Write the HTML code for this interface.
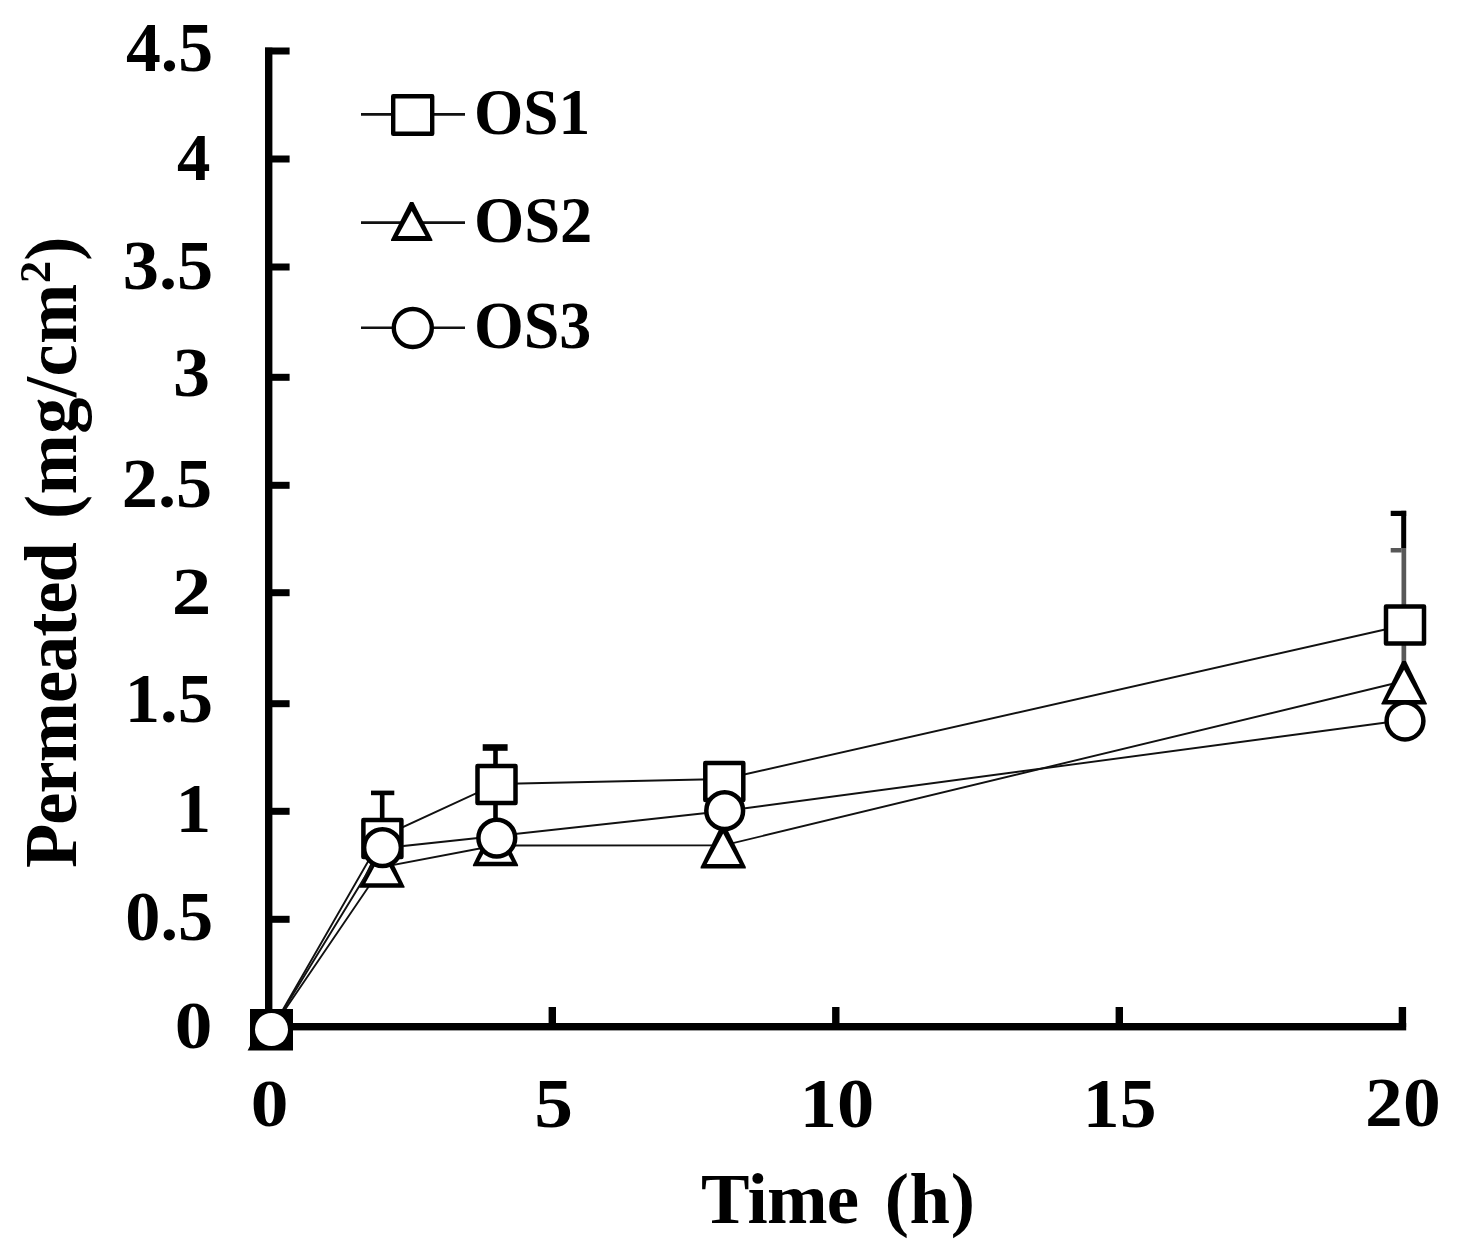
<!DOCTYPE html>
<html lang="en"><head><meta charset="utf-8"><title>Permeated (mg/cm2) vs Time (h)</title>
<style>
html,body{margin:0;padding:0;background:#fff;}
body{width:1459px;height:1255px;overflow:hidden;}
svg{display:block;}
text{font-family:"Liberation Serif",serif;font-weight:bold;fill:#000;}
.tk{font-size:68px;}
.lg{font-size:64px;}
.tt{font-size:71px;}
</style></head><body>
<svg width="1459" height="1255" viewBox="0 0 1459 1255">
<rect width="1459" height="1255" fill="#fff"/>
<g fill="#000">
<rect x="265" y="47.6" width="7.4" height="982.8"/>
<rect x="265" y="1023" width="1141.2" height="7.4"/>
<rect x="265" y="915.8" width="24.6" height="7"/>
<rect x="265" y="807.8" width="24.6" height="7"/>
<rect x="265" y="700.2" width="24.6" height="7"/>
<rect x="265" y="589.2" width="24.6" height="7"/>
<rect x="265" y="481.8" width="24.6" height="7"/>
<rect x="265" y="373.8" width="24.6" height="7"/>
<rect x="265" y="263.5" width="24.6" height="7"/>
<rect x="265" y="155.5" width="24.6" height="7"/>
<rect x="265" y="47.5" width="24.6" height="7"/>
<rect x="548.6" y="1007" width="7.4" height="20"/>
<rect x="832.1" y="1007" width="7.4" height="20"/>
<rect x="1115.6" y="1007" width="7.4" height="20"/>
<rect x="1398.7" y="1007" width="7.4" height="20"/>
</g>
<g>
<g transform="matrix(1.10823 0 0 0.99178 -20.403 8.604)"><text id="t_y0" class="tk" text-anchor="end" x="210.0" y="1048.5">0</text></g>
<g transform="matrix(1.03333 0 0 1.02801 -3.880 -26.729)"><text id="t_y0.5" class="tk" text-anchor="end" x="210.0" y="940.3">0.5</text></g>
<g transform="matrix(1.04000 0 0 1.02801 -7.240 -23.704)"><text id="t_y1" class="tk" text-anchor="end" x="210.0" y="832.3">1</text></g>
<g transform="matrix(1.03896 0 0 1.02801 -5.065 -22.698)"><text id="t_y1.5" class="tk" text-anchor="end" x="210.0" y="724.7">1.5</text></g>
<g transform="matrix(1.16468 0 0 0.99178 -33.090 5.046)"><text id="t_y2" class="tk" text-anchor="end" x="210.0" y="613.7">2</text></g>
<g transform="matrix(1.06359 0 0 1.02321 -11.139 -10.745)"><text id="t_y2.5" class="tk" text-anchor="end" x="210.0" y="506.3">2.5</text></g>
<g transform="matrix(1.09045 0 0 1.03706 -18.813 -17.163)"><text id="t_y3" class="tk" text-anchor="end" x="210.0" y="398.3">3</text></g>
<g transform="matrix(1.06344 0 0 1.02321 -10.120 -5.685)"><text id="t_y3.5" class="tk" text-anchor="end" x="210.0" y="288.0">3.5</text></g>
<g transform="matrix(0.98160 0 0 0.99178 4.256 1.479)"><text id="t_y4" class="tk" text-anchor="end" x="210.0" y="180.0">4</text></g>
<g transform="matrix(1.02469 0 0 1.03706 -2.111 -4.064)"><text id="t_y4.5" class="tk" text-anchor="end" x="210.0" y="72.0">4.5</text></g>
<g transform="matrix(1.10823 0 0 0.99178 -29.736 9.245)"><text id="t_x0" class="tk" text-anchor="middle" x="270.0" y="1126.5">0</text></g>
<g transform="matrix(1.14016 0 0 1.03706 -77.170 -40.758)"><text id="t_x5" class="tk" text-anchor="middle" x="553.3" y="1126.5">5</text></g>
<g transform="matrix(1.09343 0 0 1.03706 -78.093 -40.758)"><text id="t_x10" class="tk" text-anchor="middle" x="836.8" y="1126.5">10</text></g>
<g transform="matrix(1.08333 0 0 1.03706 -94.000 -40.758)"><text id="t_x15" class="tk" text-anchor="middle" x="1120.3" y="1126.5">15</text></g>
<g transform="matrix(1.11111 0 0 1.02801 -156.444 -31.957)"><text id="t_x20" class="tk" text-anchor="middle" x="1403.4" y="1126.5">20</text></g>
<g transform="matrix(0.99099 0 0 1.03829 3.306 -4.523)"><text id="t_OS1" class="lg" text-anchor="start" x="475.0" y="133.8">OS1</text></g>
<g transform="matrix(1.00901 0 0 1.03353 -5.306 -8.114)"><text id="t_OS2" class="lg" text-anchor="start" x="475.0" y="241.8">OS2</text></g>
<g transform="matrix(1.00000 0 0 1.04762 -1.000 -15.524)"><text id="t_OS3" class="lg" text-anchor="start" x="475.0" y="347.3">OS3</text></g>
<g transform="matrix(1.02434 0 0 1.00446 -19.135 -4.859)"><text id="t_time" class="tt" text-anchor="middle" x="837.0" y="1222.3" style="word-spacing:8px"><tspan letter-spacing="-0.7">Time</tspan> <tspan letter-spacing="0.6">(h)</tspan></text></g>
<g transform="matrix(1.03082 0 0 1.02052 -1.963 -12.069)"><text id="t_perm" class="tt" text-anchor="middle" transform="translate(75.6 553) rotate(-90)" style="word-spacing:6px"><tspan letter-spacing="-1">Permeated</tspan> <tspan letter-spacing="0.4">(mg/cm</tspan><tspan dy="-25" font-size="44">2</tspan><tspan dy="25">)</tspan></text></g>
</g>
<line x1="361" y1="114.4" x2="465" y2="114.4" stroke="#111" stroke-width="2.6"/>
<rect x="393.20" y="96.25" width="39" height="37.5" fill="#fff" stroke="#000" stroke-width="4.4" stroke-linejoin="round"/>
<line x1="361" y1="222.6" x2="465" y2="222.6" stroke="#111" stroke-width="2.6"/>
<polygon points="410.10,202.00 413.30,202.00 432.40,239.70 432.40,241.00 391.00,241.00 391.00,239.70" fill="#000"/><polygon points="411.70,211.00 425.50,236.00 397.90,236.00" fill="#fff"/>
<line x1="361" y1="327.7" x2="465" y2="327.7" stroke="#111" stroke-width="2.6"/>
<circle cx="412.80" cy="328.00" r="19" fill="#fff" stroke="#000" stroke-width="4.4"/>
<g fill="#000">
<rect x="379.9" y="793" width="4.6" height="30"/><rect x="371" y="790.6" width="23.3" height="4.6"/>
<rect x="493.2" y="748" width="4.6" height="75"/><rect x="482.7" y="744.2" width="24.9" height="6.6"/>
<rect x="1401.2" y="510.8" width="5" height="37.4"/><rect x="1390.7" y="510.8" width="15.5" height="5.2"/>
</g>
<g fill="#585858"><rect x="1401.5" y="548" width="4.7" height="115"/><rect x="1390.7" y="548" width="11" height="4.5"/></g>
<polyline points="271.50,1029.50 382.40,836.60 496.50,784.00 724.30,779.00 1405.00,625.00" fill="none" stroke="#111" stroke-width="1.9"/>
<rect x="363.40" y="819.90" width="38.0" height="37.0" fill="#fff" stroke="#000" stroke-width="4.5" stroke-linejoin="round"/>
<rect x="477.50" y="766.00" width="38.0" height="37.0" fill="#fff" stroke="#000" stroke-width="4.5" stroke-linejoin="round"/>
<rect x="705.30" y="763.00" width="38.0" height="37.0" fill="#fff" stroke="#000" stroke-width="4.5" stroke-linejoin="round"/>
<rect x="1386.00" y="606.50" width="38.0" height="37.0" fill="#fff" stroke="#000" stroke-width="4.5" stroke-linejoin="round"/>
<polyline points="271.50,1029.50 382.00,867.00 495.50,845.50 723.50,845.40 1404.20,681.00" fill="none" stroke="#111" stroke-width="1.9"/>
<polygon points="380.10,844.10 383.70,844.10 404.50,886.40 404.50,887.70 359.30,887.70 359.30,886.40" fill="#000"/><polygon points="381.90,852.90 398.40,883.20 365.40,883.20" fill="#fff"/>
<polygon points="493.70,822.70 497.30,822.70 518.10,865.00 518.10,866.30 472.90,866.30 472.90,865.00" fill="#000"/><polygon points="495.50,831.50 512.00,861.80 479.00,861.80" fill="#fff"/>
<polygon points="721.40,824.80 725.00,824.80 745.80,867.10 745.80,868.40 700.60,868.40 700.60,867.10" fill="#000"/><polygon points="723.20,833.60 739.70,863.90 706.70,863.90" fill="#fff"/>
<polygon points="1402.30,661.00 1405.90,661.00 1426.70,703.30 1426.70,704.60 1381.50,704.60 1381.50,703.30" fill="#000"/><polygon points="1404.10,669.80 1420.60,700.10 1387.60,700.10" fill="#fff"/>
<polyline points="271.50,1029.50 382.50,848.20 496.80,836.00 724.70,811.00 1405.00,720.00" fill="none" stroke="#111" stroke-width="1.9"/>
<path d="M247.6 1050.4 L250 1046 L250 1009 L293 1009 L293 1050.4 Z" fill="#000"/>
<circle cx="382.50" cy="847.60" r="18.4" fill="#fff" stroke="#000" stroke-width="4.5"/>
<circle cx="496.80" cy="838.10" r="18.4" fill="#fff" stroke="#000" stroke-width="4.5"/>
<circle cx="724.70" cy="810.70" r="18.4" fill="#fff" stroke="#000" stroke-width="4.5"/>
<circle cx="1405.00" cy="721.00" r="18.4" fill="#fff" stroke="#000" stroke-width="4.5"/>
<circle cx="271.5" cy="1029.5" r="16.5" fill="#fff"/>
</svg></body></html>
